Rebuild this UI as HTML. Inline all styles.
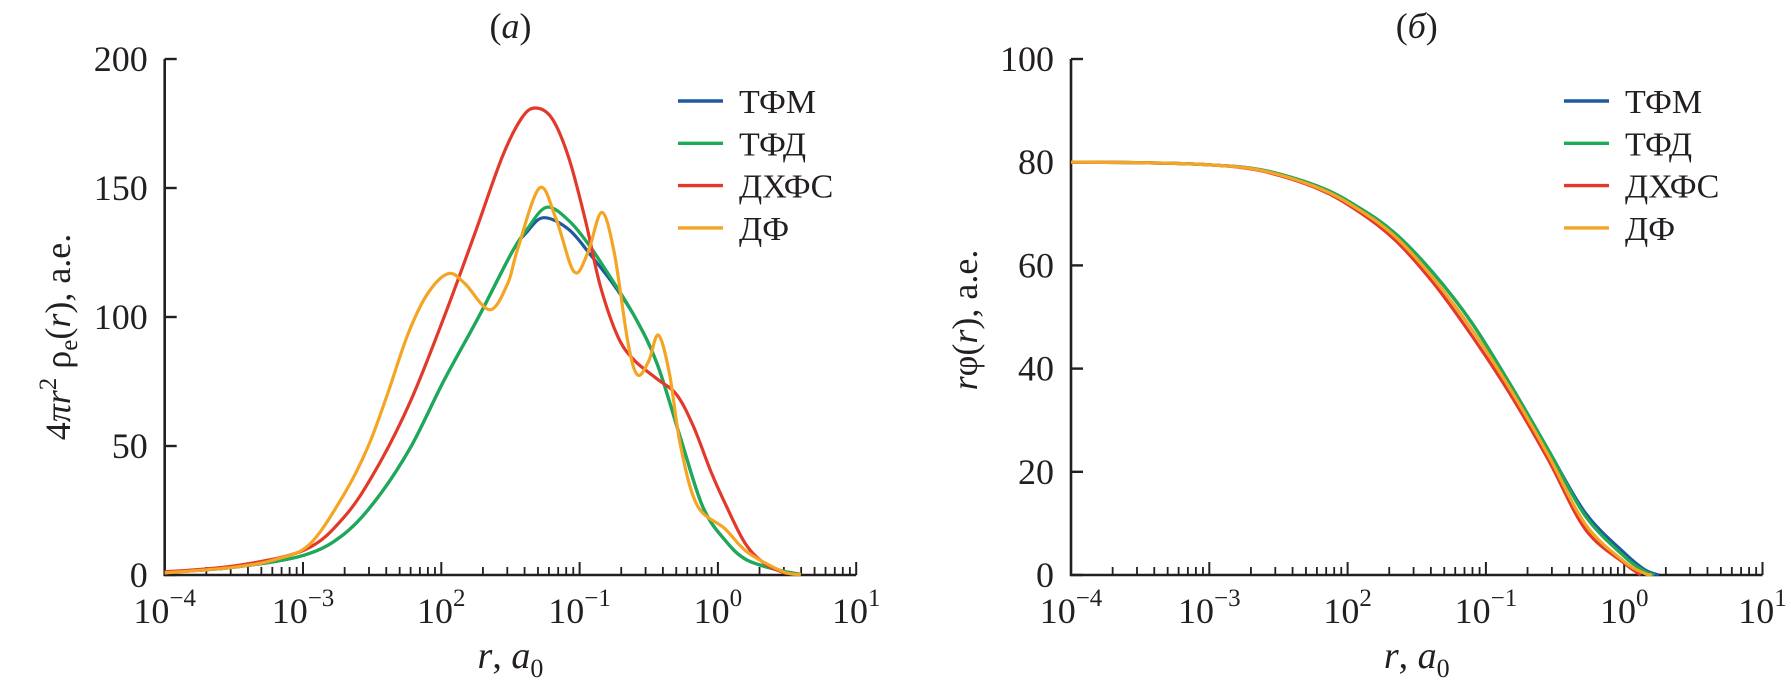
<!DOCTYPE html>
<html><head><meta charset="utf-8">
<style>
html,body{margin:0;padding:0;background:#fff;}
svg{display:block;font-family:"Liberation Serif","DejaVu Serif",serif;}
</style></head>
<body>
<svg id="chart" width="1791" height="694" viewBox="0 0 1791 694" xmlns="http://www.w3.org/2000/svg">
<g id="pa"></g>
<g id="pb"></g>
</svg>
<script>
// ---- data: x values are log10(r) ----
const seriesNames = ["ТФМ","ТФД","ДХФС","ДФ"];
const seriesColors = ["#1f5a9c","#1daa57","#e2392b","#f4a524"];
const xTickExps = [-4,-3,-2,-1,0,1];
const xTickLabels = ["\u22124","\u22123","2","\u22121","0","1"];
const aYTicks = [0,50,100,150,200];
const bYTicks = [0,20,40,60,80,100];

const aBlueX = [-4,-3.5,-2.99,-2.70,-2.46,-2.22,-1.98,-1.73,-1.49,-1.38,-1.26,-1.08,-0.92,-0.76,-0.6,-0.44,-0.27,-0.11,0.05,0.21,0.47,0.6];
const aBlueY = [1,3,7.7,16,30,49.7,75.5,100,125,133,138.5,134,124,113,100,82,53,26.5,13.6,5.8,1.5,0.3];
const aGreenX = [-4,-3.5,-2.99,-2.70,-2.46,-2.22,-1.98,-1.73,-1.49,-1.38,-1.24,-1.08,-0.92,-0.76,-0.6,-0.44,-0.27,-0.11,0.05,0.21,0.47,0.6];
const aGreenY = [1,3,7.7,16,30,49.7,75.5,100,125,134,142.5,137.5,127,114,100,82,53,26.5,13.6,5.8,1.5,0.3];
const aRedX = [-4,-3.5,-2.99,-2.70,-2.46,-2.22,-1.98,-1.76,-1.56,-1.42,-1.32,-1.2,-1.08,-0.96,-0.85,-0.72,-0.6,-0.44,-0.3,-0.18,-0.05,0.05,0.2,0.35,0.5];
const aRedY = [1.2,3.5,9.7,22.6,42,67.7,100,132,162,177,181,177,162,138,112,92,83,76,70,58,40,28,12,4,0.5];
const aYellowX = [-4,-3.5,-3.2,-2.95,-2.70,-2.53,-2.39,-2.24,-2.10,-1.95,-1.83,-1.65,-1.52,-1.45,-1.29,-1.17,-1.04,-0.94,-0.84,-0.75,-0.65,-0.58,-0.5,-0.43,-0.35,-0.27,-0.15,0.05,0.21,0.47,0.6];
const aYellowY = [0.8,3,6,12,31.6,49.7,70,93.5,109,116.8,113,102.8,113,126,150,138,117.5,125,140.5,125,90,77.5,83,93,78,50,27,18,9,1.3,0.2];

const bBlueX = [-4,-3.5,-3,-2.62,-2.21,-1.93,-1.66,-1.38,-1.10,-0.83,-0.55,-0.28,0,0.15,0.25];
const bBlueY = [80,79.9,79.5,78.5,75.3,71.4,66.3,58.5,48.8,37.2,24.3,12,4.3,1,0];
const bGreenX = [-4,-3.5,-3,-2.62,-2.21,-1.93,-1.66,-1.38,-1.10,-0.83,-0.55,-0.28,0,0.15,0.22];
const bGreenY = [80,79.9,79.5,78.5,75.3,71.4,66.3,58.5,48.8,37.2,24.3,11.4,3.6,0.7,0];
const bRedX = [-4,-3.5,-3,-2.62,-2.21,-1.93,-1.66,-1.38,-1.10,-0.83,-0.55,-0.28,0,0.12];
const bRedY = [80,79.9,79.5,78.3,74.8,70.6,65,56.6,46.3,35.3,22.4,8.8,2.3,0];
const bYellowX = [-4,-3.5,-3,-2.62,-2.21,-1.93,-1.66,-1.38,-1.10,-0.83,-0.55,-0.28,0,0.15,0.2];
const bYellowY = [80,79.9,79.5,78.4,75,71,65.7,57.5,47.5,36.3,23.3,9.8,2.6,0.3,0];

const NS="http://www.w3.org/2000/svg";
function mk(parent,tag,attrs){const e=document.createElementNS(NS,tag);for(const k in attrs)e.setAttribute(k,attrs[k]);parent.appendChild(e);return e;}
function splinePath(pts){
  let d="M"+pts[0][0].toFixed(1)+","+pts[0][1].toFixed(1);
  for(let i=0;i<pts.length-1;i++){
    const p0=pts[i-1]||pts[i],p1=pts[i],p2=pts[i+1],p3=pts[i+2]||p2;
    const c1=[p1[0]+(p2[0]-p0[0])/6,p1[1]+(p2[1]-p0[1])/6];
    const c2=[p2[0]-(p3[0]-p1[0])/6,p2[1]-(p3[1]-p1[1])/6];
    d+=" C"+c1[0].toFixed(1)+","+c1[1].toFixed(1)+" "+c2[0].toFixed(1)+","+c2[1].toFixed(1)+" "+p2[0].toFixed(1)+","+p2[1].toFixed(1);
  }
  return d;
}

function panel(g,cfg){
  const x0=cfg.x0, dec=138.3, yTop=59, yBot=575;
  const xs=v=>x0+(v+4)*dec;
  const ys=v=>yBot-(v/cfg.ymax)*(yBot-yTop);
  const xEnd=xs(1);
  const ax=mk(g,"path",{d:`M${x0},${yTop} L${x0},${yBot} L${xEnd},${yBot}`,fill:"none",stroke:"#231f20","stroke-width":2.6});
  
  
  cfg.yticks.forEach(v=>{
    const t=mk(g,"line",{x1:x0,x2:x0+12,y1:ys(v),y2:ys(v),stroke:"#231f20","stroke-width":2.4});
    
    
    const l=mk(g,"text",{x:x0-17,y:ys(v)+12,"text-anchor":"end","font-size":36,fill:"#231f20"});
    
    
    l.textContent=v;
  });
  xTickExps.forEach((e,i)=>{
    const t=mk(g,"line",{x1:xs(e),x2:xs(e),y1:yBot,y2:yBot-13,stroke:"#231f20","stroke-width":2});
    
    
    if(e<1){for(let k=2;k<10;k++){
      const xm=xs(e+Math.log10(k));
      const m=mk(g,"line",{x1:xm,x2:xm,y1:yBot,y2:yBot-8,stroke:"#231f20","stroke-width":1.8});
      
      
    }}
    const l=mk(g,"text",{x:xs(e),y:623,"text-anchor":"middle","font-size":36,fill:"#231f20"});
    
    
    l.textContent="10";
    const s=mk(l,"tspan",{dy:-17,"font-size":25});
    s.textContent=xTickLabels[i];
  });
  cfg.series.forEach((s,i)=>{
    const pts=s[0].map((v,j)=>[xs(v),ys(s[1][j])]);
    const p=mk(g,"path",{d:splinePath(pts),fill:"none",stroke:seriesColors[i],"stroke-width":3.2,"stroke-linejoin":"round"});
    
    
  });
  seriesNames.forEach((n,i)=>{
    const y=101+i*42.3;
    const lg=mk(g,"g",{});
    
    
    mk(lg,"line",{x1:cfg.legX,x2:cfg.legX+45,y1:y,y2:y,stroke:seriesColors[i],"stroke-width":3.4});
    const t=mk(lg,"text",{x:cfg.legX+61,y:y+12,"font-size":34,fill:"#231f20"});
    t.textContent=n;
  });
  const pt=mk(g,"text",{x:(x0+xEnd)/2,y:38,"text-anchor":"middle","font-size":36,fill:"#231f20"});
  
  
  pt.innerHTML='(<tspan font-style="italic">'+cfg.letter+'</tspan>)';
  const xt=mk(g,"text",{x:(x0+xEnd)/2,y:668,"text-anchor":"middle","font-size":38,fill:"#231f20"});
  
  
  xt.innerHTML='<tspan font-style="italic">r</tspan>, <tspan font-style="italic">a</tspan><tspan font-size="26" dy="9">0</tspan>';
  const yt=mk(g,"text",{x:0,y:0,"text-anchor":"middle","font-size":36,fill:"#231f20",transform:`translate(${cfg.ytX},${cfg.ytY}) rotate(-90)`});
  
  
  yt.innerHTML=cfg.ytitle;
}

panel(document.getElementById("pa"),{x0:164.7,ymax:200,yticks:aYTicks,legX:678,letter:"a",ytX:70,ytY:337,
  ytitle:'4<tspan font-style="italic">πr</tspan><tspan font-size="25" dy="-14">2</tspan><tspan dy="14"> ρ</tspan><tspan font-size="25" dy="7">e</tspan><tspan dy="-7">(</tspan><tspan font-style="italic">r</tspan>), а.е.',
  series:[[aBlueX,aBlueY],[aGreenX,aGreenY],[aRedX,aRedY],[aYellowX,aYellowY]]});
panel(document.getElementById("pb"),{x0:1071,ymax:100,yticks:bYTicks,legX:1564,letter:"б",ytX:977,ytY:320,
  ytitle:'<tspan font-style="italic">r</tspan>φ(<tspan font-style="italic">r</tspan>), а.е.',
  series:[[bBlueX,bBlueY],[bGreenX,bGreenY],[bRedX,bRedY],[bYellowX,bYellowY]]});
</script>
</body></html>
